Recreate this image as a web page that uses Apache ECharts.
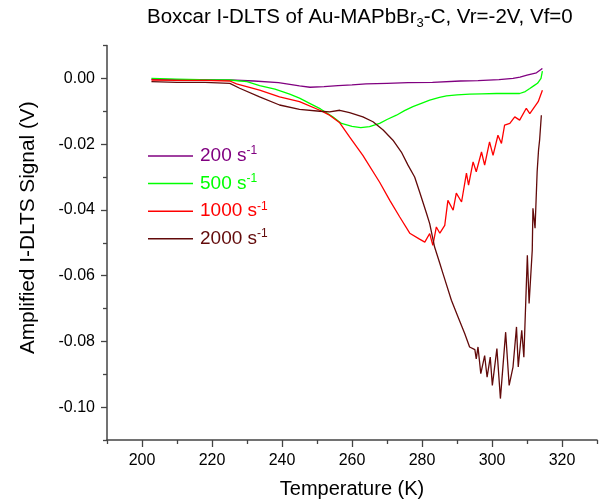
<!DOCTYPE html>
<html><head><meta charset="utf-8">
<script src="https://cdn.jsdelivr.net/npm/echarts@6/dist/echarts.min.js"></script>
<style>html,body{margin:0;padding:0;background:#fff}#c{width:600px;height:500px}</style>
</head><body><div id="c"></div>
<script>
const seriesNames = ['200', '500', '1000', '2000'];
const seriesColors = ['#800080', '#00ff00', '#ff0000', '#620a0a'];

const xMajorTicks = [200, 220, 240, 260, 280, 300, 320];
const xMinorTicks = [190, 210, 230, 250, 270, 290, 310, 330];
const yMajorTicks = [0, -0.02, -0.04, -0.06, -0.08, -0.10];
const yMinorTicks = [0.01, -0.01, -0.03, -0.05, -0.07, -0.09, -0.11];

const rate200 = [[202.7,-0.0003],[210,-0.0004],[218,-0.0004],[225,-0.0005],[232,-0.0008],[239,-0.0013],[245,-0.0023],[248,-0.0027],[252,-0.0025],[256,-0.0022],[260,-0.002],[264,-0.0017],[270,-0.0015],[276,-0.0013],[283,-0.0012],[291,-0.0008],[296,-0.0007],[302,-0.0004],[306,0],[308,0.0004],[310,0.001],[312.7,0.0017],[314.1,0.0028],[314.4,0.003]];

const rate500 = [[202.7,0],[210,-0.0002],[216.5,-0.0004],[225,-0.0005],[230,-0.001],[233.6,-0.0022],[238,-0.0033],[242.2,-0.0048],[245,-0.006],[247.9,-0.0076],[251,-0.0093],[254.5,-0.0117],[257,-0.0137],[260,-0.0146],[262.5,-0.015],[265,-0.0147],[267.9,-0.0137],[270,-0.0125],[272.7,-0.0112],[275,-0.0098],[277.4,-0.0086],[280,-0.0075],[282.2,-0.0066],[285,-0.0058],[287,-0.0053],[290,-0.005],[293.6,-0.0048],[297,-0.0047],[301.3,-0.0046],[305,-0.0046],[307.9,-0.0046],[309.5,-0.004],[310.8,-0.0031],[312,-0.0022],[313,-0.0015],[314,0],[314.4,0.0022]];

const rate1000 = [[202.7,-0.0005],[210,-0.0006],[218,-0.0006],[225.1,-0.0008],[227,-0.0017],[233.6,-0.0036],[239.3,-0.0056],[245,-0.0071],[250.8,-0.0097],[253.6,-0.0112],[256.5,-0.0135],[259.3,-0.0178],[263.1,-0.0234],[267.9,-0.0316],[270.8,-0.0371],[273.6,-0.0421],[276.5,-0.0471],[279.3,-0.0489],[280.8,-0.0498],[282.2,-0.0472],[283.1,-0.0508],[284.1,-0.0452],[285.1,-0.0471],[286.5,-0.0447],[287.4,-0.0371],[288.9,-0.0401],[289.8,-0.0349],[291.3,-0.0376],[292.7,-0.0288],[293.3,-0.0325],[294.6,-0.0254],[295.5,-0.0284],[297,-0.0224],[297.9,-0.0264],[299.3,-0.0193],[300.3,-0.0234],[301.7,-0.0173],[302.7,-0.0198],[303.6,-0.0142],[305.1,-0.0137],[306.5,-0.0117],[307.9,-0.0127],[309.8,-0.0091],[310.8,-0.0107],[312.2,-0.0086],[313.2,-0.0071],[314.4,-0.0036]];

const rate2000 = [[202.7,-0.001],[210,-0.0012],[218,-0.0012],[225.1,-0.0015],[227.9,-0.003],[233.6,-0.0056],[239.3,-0.0081],[245,-0.0094],[250.8,-0.01],[253.6,-0.0102],[256.5,-0.0097],[259.3,-0.0104],[263.1,-0.0117],[266,-0.0132],[268.9,-0.0157],[271.7,-0.0188],[274.1,-0.0224],[276,-0.0264],[277.9,-0.03],[279.3,-0.0345],[281.3,-0.0411],[282.2,-0.0442],[283.6,-0.0513],[285.1,-0.0563],[286,-0.0594],[288.4,-0.0675],[290.3,-0.0726],[292.2,-0.0776],[293.6,-0.0817],[295.1,-0.0825],[295.5,-0.0853],[296,-0.0817],[296.8,-0.0898],[297.9,-0.0843],[298.6,-0.0909],[299.5,-0.0848],[300.1,-0.0934],[301.4,-0.0822],[302.4,-0.0974],[303.9,-0.0772],[304.9,-0.0934],[306,-0.0878],[307,-0.0756],[307.5,-0.0878],[308.5,-0.0766],[309.1,-0.0848],[310.1,-0.0538],[310.6,-0.0685],[311.5,-0.0523],[311.7,-0.0395],[312.3,-0.0456],[312.9,-0.0284],[313.3,-0.0218],[313.6,-0.0188],[314.1,-0.0112]];

const allData = [rate200, rate500, rate1000, rate2000];

const FONT = 'Liberation Sans, Arial, sans-serif';
const legendRich = {};
seriesNames.forEach((n, i) => {
  legendRich['m' + i] = { fontFamily: FONT, fontSize: 19, color: seriesColors[i], lineHeight: 22, padding: [0, 0, 0, 2] };
  legendRich['s' + i] = { fontFamily: FONT, fontSize: 12, color: seriesColors[i], lineHeight: 12, verticalAlign: 'top' };
});

const chart = echarts.init(document.getElementById('c'), null, { renderer: 'canvas' });
chart.setOption({
  animation: false,
  backgroundColor: '#fff',
  title: {
    text: '{t|Boxcar I-DLTS of Au-MAPbBr}{sub|3}{t|-C, Vr=-2V, Vf=0}',
    left: 147, top: 5, padding: 0,
    textStyle: {
      fontWeight: 'normal',
      rich: {
        t: { fontFamily: FONT, fontSize: 20.5, fontWeight: 'normal', color: '#000', lineHeight: 25 },
        sub: { fontFamily: FONT, fontSize: 13, fontWeight: 'normal', color: '#000', lineHeight: 13, verticalAlign: 'bottom' }
      }
    }
  },
  grid: { left: 107, right: 3, top: 45.5, bottom: 60, outerBoundsMode: 'none', containLabel: false },
  legend: {
    orient: 'vertical', left: 148, top: 145, itemGap: 7.1, padding: 0,
    itemWidth: 45, itemHeight: 1.5, icon: 'rect',
    data: seriesNames,
    formatter: function (name) { const i = seriesNames.indexOf(name); return '{m' + i + '|' + name + ' s}{s' + i + '|-1}'; },
    textStyle: { rich: legendRich }
  },
  xAxis: [{
    type: 'value', min: 190, max: 330, position: 'bottom',
    name: 'Temperature (K)', nameLocation: 'middle', nameGap: 39,
    nameTextStyle: { fontFamily: FONT, fontSize: 20, color: '#000' },
    axisLine: { show: true, onZero: false, lineStyle: { color: '#444', width: 1.5 } },
    axisTick: { show: true, length: 7, customValues: xMajorTicks, lineStyle: { color: '#444', width: 1.3 } },
    axisLabel: { customValues: xMajorTicks, margin: 13, fontFamily: FONT, fontSize: 16, color: '#000' },
    splitLine: { show: false }
  }, {
    type: 'value', min: 190, max: 330, position: 'bottom',
    axisLine: { show: false, onZero: false },
    axisTick: { show: true, length: 4, customValues: xMinorTicks, lineStyle: { color: '#444', width: 1.3 } },
    axisLabel: { show: false },
    splitLine: { show: false }
  }],
  yAxis: [{
    type: 'value', min: -0.11, max: 0.01, position: 'left',
    name: 'Amplified I-DLTS Signal (V)', nameLocation: 'middle', nameGap: 68, nameRotate: 90,
    nameTextStyle: { fontFamily: FONT, fontSize: 20.8, color: '#000', padding: [0, 0, 0, 30] },
    axisLine: { show: true, onZero: false, lineStyle: { color: '#444', width: 1.5 } },
    axisTick: { show: true, length: 6, customValues: yMajorTicks, lineStyle: { color: '#444', width: 1.3 } },
    axisLabel: { customValues: yMajorTicks, margin: 12, fontFamily: FONT, fontSize: 16, color: '#000', formatter: v => v.toFixed(2) },
    splitLine: { show: false }
  }, {
    type: 'value', min: -0.11, max: 0.01, position: 'left',
    axisLine: { show: false, onZero: false },
    axisTick: { show: true, length: 4, customValues: yMinorTicks, lineStyle: { color: '#444', width: 1.3 } },
    axisLabel: { show: false },
    splitLine: { show: false }
  }],
  series: seriesNames.map((n, i) => ({
    name: n, type: 'line', xAxisIndex: 0, yAxisIndex: 0,
    data: allData[i], showSymbol: false, symbol: 'none',
    lineStyle: { color: seriesColors[i], width: 1.3 },
    itemStyle: { color: seriesColors[i] },
    z: 2 + i
  }))
});
</script></body></html>
